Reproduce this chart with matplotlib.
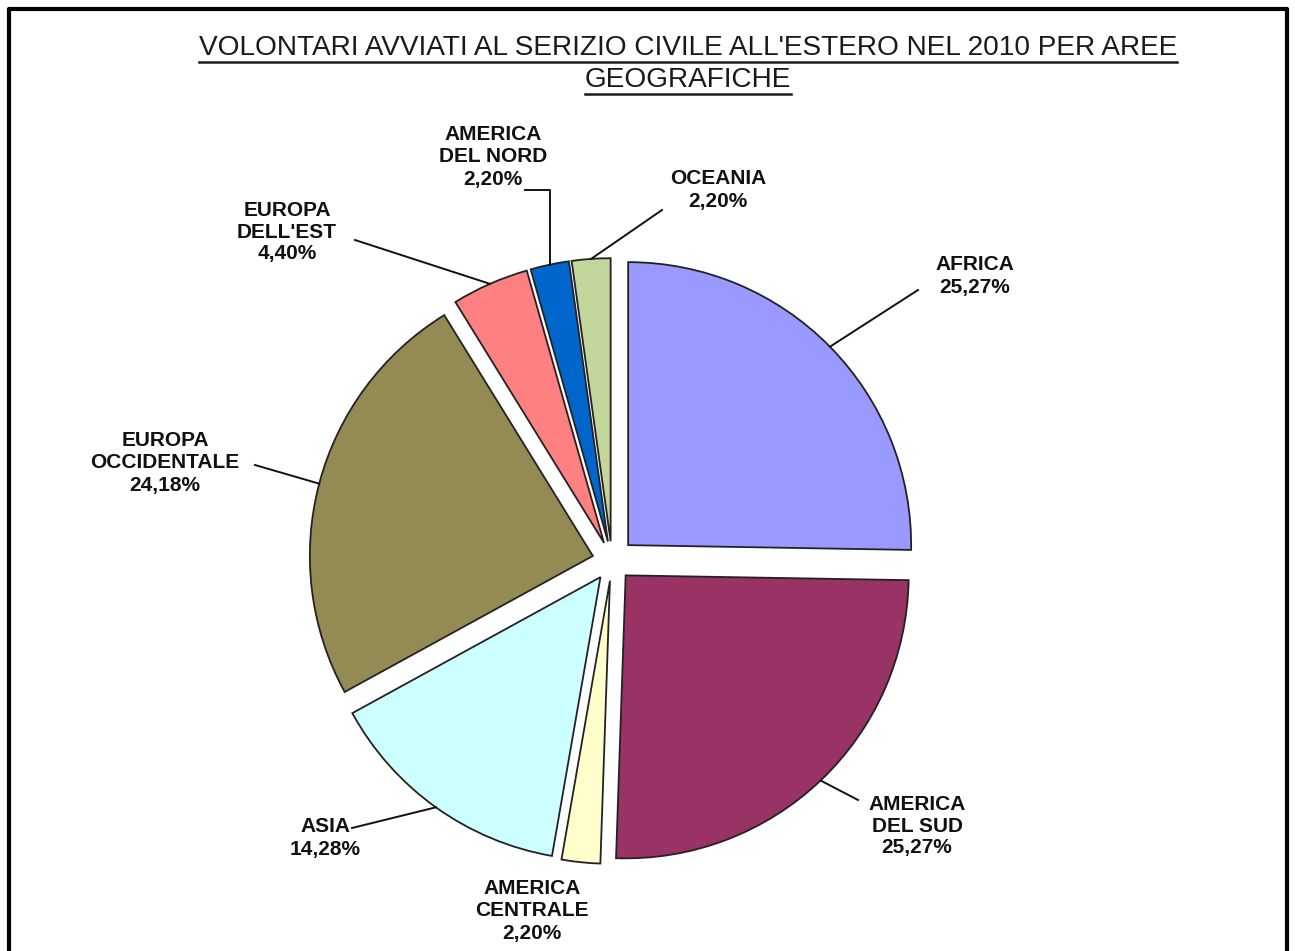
import matplotlib
matplotlib.use("Agg")
import math
import matplotlib.pyplot as plt
from matplotlib.lines import Line2D

# dati
aree = ["AFRICA", "AMERICA\nDEL SUD", "AMERICA\nCENTRALE", "ASIA",
        "EUROPA\nOCCIDENTALE", "EUROPA\nDELL'EST", "AMERICA\nDEL NORD", "OCEANIA"]
percentuali = [25.27, 25.27, 2.20, 14.28, 24.18, 4.40, 2.20, 2.20]
colori = ["#9999FF", "#993366", "#FFFFCC", "#CCFFFF",
          "#948A54", "#FF8080", "#0066CC", "#C3D69B"]
titolo = ["VOLONTARI AVVIATI AL SERIZIO CIVILE ALL'ESTERO NEL 2010 PER AREE",
          "GEOGRAFICHE"]

W, H = 1295, 951
CX, CY, R = 612, 561, 283   # centro e raggio torta in pixel


def px(x, y):
    """pixel immagine -> coordinate dati (raggio = 1)"""
    return (x - CX) / R, (CY - y) / R


# posizioni etichette (pixel) e fine della linea guida
pos_label = [(975, 276), (917, 826), (532, 911), (325, 838),
             (165, 463), (287, 232), (493, 157), (718, 190)]
fine_linea = [(918, 290), (858, 800), None, (352, 828),
              (255, 465), (355, 240), (525, 190), (662, 210)]
esplosione = [0.08, 0.07, 0.07, 0.07, 0.07, 0.07, 0.07, 0.07]

fig = plt.figure(figsize=(W / 100, H / 100), dpi=100, facecolor="white")
ax = fig.add_axes([0, 0, 1, 1])

wedges, _ = ax.pie(percentuali, colors=colori, startangle=90, counterclock=False,
                   explode=esplosione, radius=1,
                   wedgeprops=dict(edgecolor="#222222", linewidth=1.3))
ax.set_aspect("auto")
ax.set_xlim(-CX / R, (W - CX) / R)
ax.set_ylim((CY - H) / R, CY / R)
ax.axis("off")

for w, nome, val, pl, fl in zip(wedges, aree, percentuali, pos_label, fine_linea):
    testo = nome + "\n" + f"{val:.2f}".replace(".", ",") + "%"
    tx, ty = px(*pl)
    ax.text(tx, ty, testo, ha="center", va="center", fontsize=15,
            fontweight="bold", family="Liberation Sans", color="#111111",
            linespacing=1.2)
    if fl is None:
        continue
    mid = math.radians((w.theta1 + w.theta2) / 2)
    ax0 = w.center[0] + 1.0 * math.cos(mid)
    ay0 = w.center[1] + 1.0 * math.sin(mid)
    ex, ey = px(*fl)
    if nome == "AMERICA\nDEL NORD":
        # linea con gomito
        ax.plot([ax0, ax0, ex], [ay0, ey, ey], color="#111111", lw=1.4)
    else:
        ax.plot([ax0, ex], [ay0, ey], color="#111111", lw=1.4)

# titolo sottolineato
fig.canvas.draw()
renderer = fig.canvas.get_renderer()
for i, riga in enumerate(titolo):
    t = fig.text(688 / W, 1 - (48 + i * 32) / H, riga, ha="center", va="center",
                 fontsize=20.2, family="Liberation Sans", color="#1a1a1a")
    bb = t.get_window_extent(renderer=renderer)
    yb = (bb.y0 - 1) / H
    fig.add_artist(Line2D([bb.x0 / W, bb.x1 / W], [yb, yb], color="#1a1a1a", lw=1.8))

# cornice
fig.add_artist(Line2D([9 / W, 9 / W, 1287 / W, 1287 / W], [0, 1 - 9 / H, 1 - 9 / H, 0],
                      color="black", lw=3))

fig.savefig("out.png", dpi=100, facecolor="white")
